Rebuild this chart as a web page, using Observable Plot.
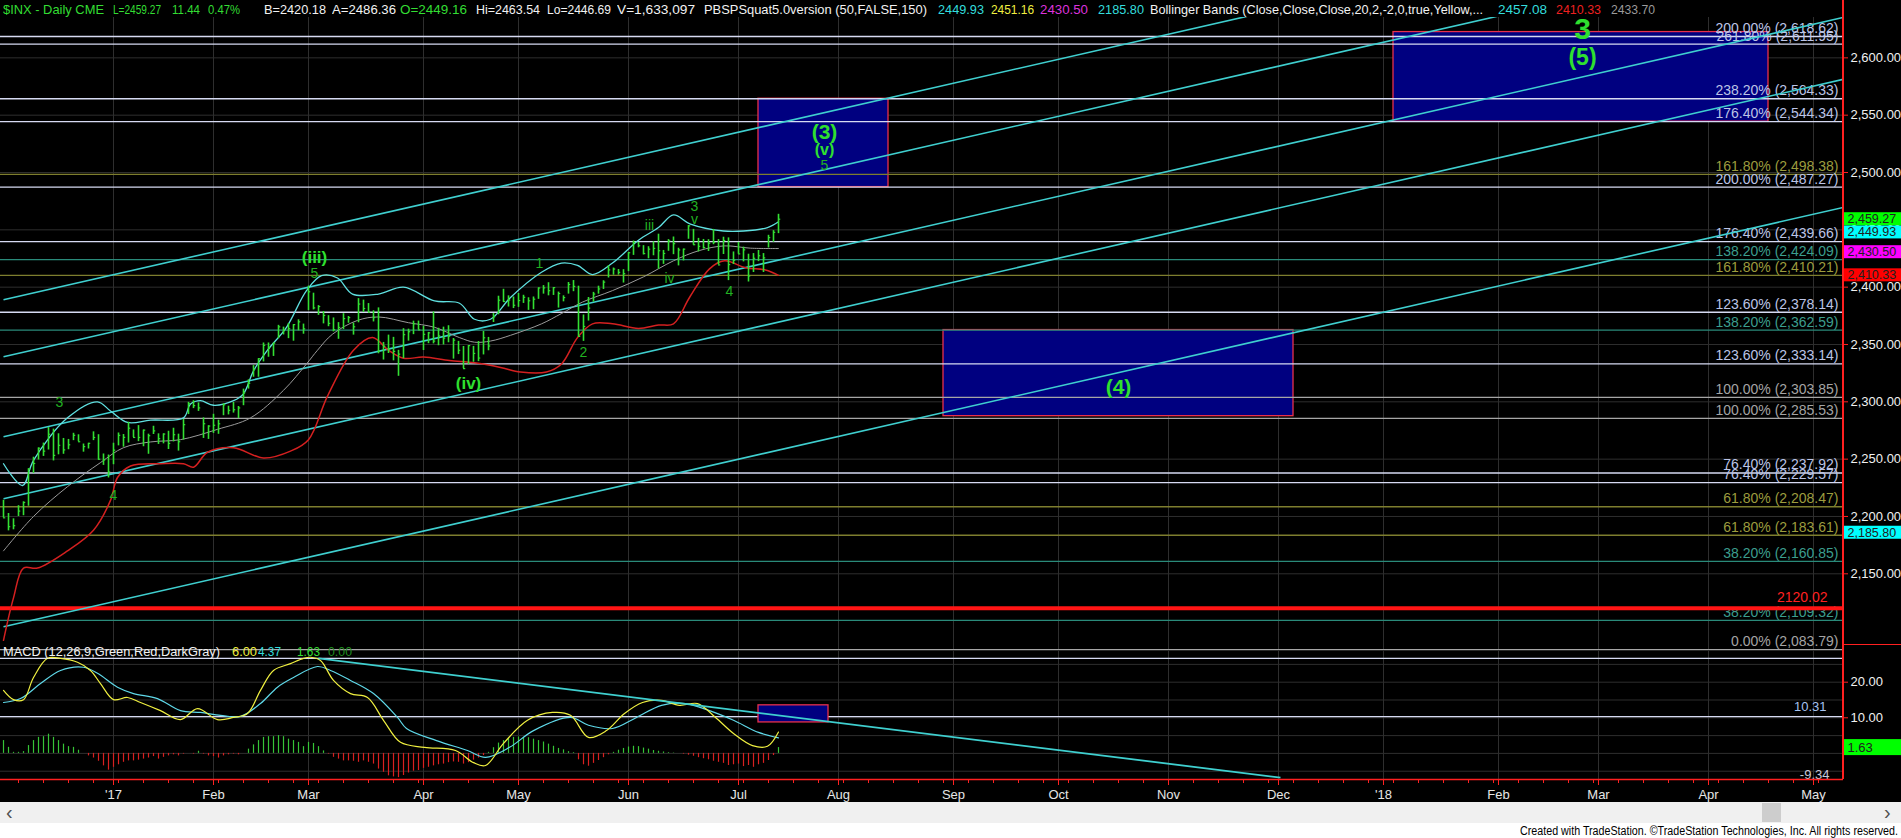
<!DOCTYPE html>
<html>
<head>
<meta charset="utf-8">
<script src="https://cdn.jsdelivr.net/npm/d3@7"></script>
<script src="https://cdn.jsdelivr.net/npm/@observablehq/plot@0.6"></script>
<style>
html,body{margin:0;padding:0;background:#fff;overflow:hidden;}
#wrap{position:relative;width:1901px;height:838px;background:#fff;font-family:"Liberation Sans",Arial,sans-serif;}
#black{position:absolute;left:0;top:0;width:1901px;height:802px;background:#000;}
#main{position:absolute;left:0;top:0;}
#macd{position:absolute;left:0;top:650px;}
.lbl{position:absolute;font-size:13px;line-height:15px;white-space:nowrap;transform-origin:0 0;}
#vred{position:absolute;left:1842px;top:0;width:1.5px;height:779px;background:#ff2020;}
#sep{position:absolute;left:1843px;top:644px;width:58px;height:1px;background:#ff2020;}
#scroll{position:absolute;left:0;top:802px;width:1901px;height:21px;background:#f0f0f0;}
#thumb{position:absolute;left:1762px;top:1px;width:19px;height:19px;background:#cdcdcd;}
.arr{position:absolute;top:0px;font-size:20px;line-height:20px;color:#505050;}
#footer{position:absolute;left:1520px;top:825px;font-size:12px;line-height:13px;color:#000;white-space:nowrap;transform-origin:0 0;}
</style>
</head>
<body>
<div id="wrap">
  <div id="black"></div>
  <div id="main"></div>
  <div id="macd"></div>
  <div id="vred"></div>
  <div id="sep"></div>
  <div id="labels"></div>
  <div id="scroll"><span class="arr" style="left:6px">&#8249;</span><div id="thumb"></div><span class="arr" style="left:1884px">&#8250;</span></div>
  <div id="footer">Created with TradeStation. &#169;TradeStation Technologies, Inc. All rights reserved.</div>
</div>
<script>
// ---------- price bars: trading days 2016-11-30 ... 2017-07-14 (index 0..155) ----------
const barHigh = [
2214.10,2202.60,2197.95,2209.42,2212.78,2241.63,2251.69,2259.80,2264.03,2277.53,2276.20,2272.12,2268.05,2267.19,2272.56,2271.23,2263.18,2263.79,2273.82,2271.31,2254.51,2253.58,
2263.88,2272.82,2271.50,2282.10,2275.49,2279.27,2275.32,2271.78,2278.68,2272.08,2272.01,2274.33,2276.96,2271.78,2284.63,2299.55,2300.99,2299.02,2286.01,2279.09,
2289.14,2283.97,2298.31,2296.18,2299.40,2295.91,2311.08,2319.23,2331.58,2337.58,2351.31,2351.31,2351.16,2366.71,2365.13,2368.26,2367.34,2371.54,2367.79,
2400.98,2394.75,2383.89,2378.80,2375.12,2373.16,2369.08,2376.86,2374.42,2368.55,2390.01,2388.71,2385.71,2379.38,2381.93,2351.81,2358.18,2356.22,2344.90,2363.78,2363.36,2370.35,2370.42,
2365.87,2360.53,2378.36,2364.16,2365.13,2366.37,2355.22,2352.72,2348.26,2349.14,2348.35,2352.63,2361.37,2356.18,2376.98,2392.10,2398.16,2392.43,2391.43,
2394.49,2392.93,2390.74,2391.43,2399.29,2401.36,2403.87,2399.73,2395.72,2392.44,2404.05,2405.77,2400.85,2375.74,2390.97,2395.46,2400.85,2405.58,2418.71,2416.68,2415.38,2415.26,
2430.06,2440.23,2439.07,2436.21,2435.28,2439.55,2446.20,2432.03,2441.49,2443.75,2433.95,2433.15,2453.82,2450.41,2442.55,2441.62,2441.40,2450.38,2441.49,2443.56,2442.97,2430.72,
2439.07,2434.90,2428.73,2429.30,2432.00,2429.30,2445.24,2449.32,2463.54];
const barLow = [
2198.81,2187.44,2188.37,2199.97,2200.66,2208.93,2237.57,2249.23,2252.37,2257.96,2248.44,2253.77,2254.24,2258.21,2266.14,2265.15,2256.08,2258.84,2266.15,2249.11,2244.56,2233.62,
2245.13,2261.60,2260.45,2264.06,2268.90,2265.27,2260.83,2254.25,2271.51,2262.81,2263.35,2258.41,2265.01,2257.02,2266.68,2288.88,2294.08,2291.62,2268.04,2267.21,
2272.44,2271.65,2287.88,2288.57,2290.16,2285.38,2296.61,2311.10,2321.42,2321.42,2334.81,2338.87,2339.58,2355.09,2358.34,2355.09,2352.87,2361.87,2358.96,
2379.55,2380.17,2375.39,2367.98,2365.51,2361.01,2354.54,2363.04,2368.52,2358.18,2368.94,2377.94,2377.64,2369.66,2341.90,2336.45,2342.13,2335.74,2322.25,2337.63,2352.94,2358.58,2362.60,
2344.73,2350.72,2350.52,2348.90,2349.61,2351.50,2337.25,2341.18,2328.95,2332.51,2334.54,2335.05,2340.91,2344.51,2369.19,2375.91,2386.78,2382.68,2381.34,
2382.36,2385.82,2379.75,2380.35,2389.38,2393.92,2392.44,2392.79,2381.74,2387.19,2393.94,2396.05,2356.95,2352.72,2370.43,2386.92,2393.88,2397.99,2408.01,2410.46,2410.51,2403.59,
2413.54,2427.71,2434.32,2428.12,2424.75,2427.40,2415.70,2419.89,2431.28,2428.34,2418.53,2422.88,2441.79,2436.60,2430.74,2433.27,2431.11,2437.03,2419.38,2428.48,2405.70,2419.76,
2428.69,2422.05,2404.50,2412.79,2422.27,2412.79,2434.19,2439.19,2446.69];
const barClose = [
2198.81,2191.08,2191.95,2204.71,2212.23,2241.35,2246.19,2259.53,2256.96,2271.72,2253.28,2262.03,2258.07,2262.53,2270.76,2265.18,2260.96,2263.79,2268.88,2249.92,2249.26,2238.83,
2257.83,2270.75,2269.00,2276.98,2268.90,2268.90,2275.32,2270.44,2274.64,2267.89,2271.89,2263.69,2271.31,2265.20,2280.07,2298.37,2296.68,2294.69,2280.90,2278.87,
2279.55,2280.85,2297.42,2292.56,2293.08,2294.67,2307.87,2316.10,2328.25,2337.58,2349.25,2347.22,2351.16,2365.38,2362.82,2363.81,2367.34,2369.75,2363.64,
2395.96,2381.92,2383.12,2375.31,2368.39,2362.98,2364.87,2372.60,2373.47,2365.45,2385.26,2381.38,2378.25,2373.47,2344.02,2348.45,2345.96,2343.98,2341.59,2358.57,2361.13,2368.06,2362.72,
2358.84,2360.16,2352.95,2357.49,2355.54,2357.16,2353.78,2344.93,2328.95,2349.01,2342.19,2338.17,2355.84,2348.69,2374.15,2388.61,2387.45,2388.77,2384.20,
2388.33,2391.17,2388.13,2389.52,2399.29,2399.38,2396.92,2399.63,2394.44,2390.90,2402.32,2400.67,2357.03,2365.72,2381.73,2394.02,2398.42,2404.39,2415.07,2415.82,2412.91,2411.80,
2430.06,2439.07,2436.10,2429.33,2433.14,2433.79,2431.77,2429.39,2440.35,2437.92,2432.46,2433.15,2453.46,2437.03,2435.61,2434.50,2438.30,2439.07,2419.38,2440.69,2419.70,2423.41,
2429.01,2432.54,2409.75,2425.18,2427.43,2425.53,2443.25,2447.83,2459.27];

// ---------- Bollinger bands : bar index / value ----------
const bbUpperIdx = [0,3.8,6,12.8,18.8,21.4,24.8,29.4,36,37.4,39.4,42,46,48,50,52.8,56.6,60.6,63.6,66.8,69.8,75,80,86.2,91.2,94.2,97.4,101.4,107.6,111.6,114.8,117.8,121.8,127,131,134,137.4,144,148,152.8,155];
const bbUpperVal = [2246,2227,2249,2286,2300,2292,2282,2284,2286,2298,2301,2297,2301,2307,2327,2345,2365,2397,2410,2408,2394,2394,2400,2388,2386,2372,2372,2391,2413,2421,2419,2411,2421,2441,2452,2463,2455,2449,2449,2452,2457.08];
const bbMidIdx = [0,6,12.8,19.4,24,29.4,35.4,42.8,49.4,56,60.6,62.8,65.8,70.8,75,81,86.2,91.2,94.2,97.4,101.4,107.6,111.6,115.8,121.8,128,134,139.2,144.2,149.4,155];
const bbMidVal = [2170,2200,2226,2247,2260,2265,2267,2276,2286,2310,2333,2345,2359,2371,2374,2369,2365,2356,2352,2353,2358,2368,2377,2387,2397,2409,2423,2432,2436,2434,2433.70];
const bbLowIdx = [0,2,4,6.8,12.8,18,21.4,22.8,25.4,31.4,36,38,40.8,46,52,57.4,61,64.8,70,73.8,77,80,84,89.2,94.2,99.4,103.4,108.6,111.6,114.8,117.8,121.8,127,131,134,137.2,141.2,144.2,148.4,152.4,155];
const bbLowVal = [2092,2129,2155,2155,2170,2188,2214,2234,2244,2246,2246,2243,2256,2260,2251,2257,2267,2305,2345,2356,2345,2338,2339,2336,2334,2330,2326,2326,2333,2356,2368,2368,2364,2367,2368,2391,2416,2423,2417,2415,2410.33];

// ---------- MACD panel ----------
const macdIdx = [0,2,4,6,8.8,11.4,14.8,17.4,19.4,22,24.8,27.4,31.4,35.4,38.8,42.8,46,48.8,51.4,54,57.4,60,61.4,63.4,66,69.4,72.8,76,79.4,84.2,90.4,94,96.4,100,104.8,109.8,113.4,117,120.6,124.2,127.8,131.6,135.2,138.8,142.4,146,149.8,152.8,155];
const macdVal = [17.7,15.1,15.1,21.3,26.7,26.7,25.6,23.3,19.6,15.1,15.7,14.3,12.0,9.5,12.6,9.5,10.1,11.2,17.7,23.3,25.2,26.7,27.0,26.1,20.5,16.8,15.7,9.3,3.1,1.7,0.8,-2.6,-3.4,2.8,9.3,11.5,10.7,4.5,6.4,11.2,14.3,14.9,13.5,14.0,10.1,5.6,2.2,2.0,6.00];
const sigIdx = [0,3.4,7.4,11.4,16,18.8,22.8,26,30.8,35.4,39.4,43.4,47.4,51.4,54.8,58,62.8,65.4,69.4,74,78.8,80.6,86.6,92.8,96.4,101.2,106,113.4,117,121.8,126.6,131.6,136.4,141.2,146,151,155];
const sigVal = [14.3,15.4,19.6,23.3,24.2,22.5,18.6,16.8,15.4,12.0,11.5,10.7,10.4,14.0,18.6,21.3,24.4,23.3,20.5,16.8,10.1,7.0,3.6,0.8,-1.1,1.7,6.4,10.1,7.9,7.0,10.1,13.5,14.0,12.0,9.3,5.9,4.37];
const histVal = [
3.6,1.7,0.3,0.3,0.5,2.2,3.6,4.5,4.7,5.4,4.5,3.6,2.6,1.9,1.7,0.9,0,-0.7,-1.3,-2.2,-3.5,-4.7,-3.9,-3.2,-2.5,-2.1,-2.1,-1.9,-1.6,-1.3,
-0.9,-1.6,-1.1,-0.7,-0.4,-0.7,-0.2,0,-0.2,0.6,-0.2,-0.7,-0.9,-1.3,-0.7,-0.4,-0.2,-0.4,0,1.2,2.4,3.6,4.5,4.7,4.7,5.0,4.7,4.0,3.6,3.1,
1.9,3.1,2.8,1.9,0.7,-0.2,-1.1,-1.6,-2.1,-2.1,-2.2,-2.5,-2.1,-2.5,-3.0,-4.4,-5.3,-6.3,-6.6,-6.8,-6.2,-5.5,-5.0,-4.8,-4.2,-3.9,-3.5,-3.2,-3.0,-2.6,
-2.4,-2.5,-3.0,-2.6,-1.9,-1.3,-0.6,0.3,1.6,2.9,3.6,4.2,4.5,4.6,4.5,4.4,4.0,3.6,3.2,2.6,2.0,1.4,1.0,0.5,0.2,-1.8,-3.2,-3.6,-2.8,-2.0,
-1.2,-0.4,0.3,0.9,1.4,1.8,2.0,1.9,1.5,1.2,0.8,0.6,0.4,0.2,0.1,0.0,-0.2,-0.5,-0.8,-1.2,-1.5,-1.8,-2.2,-2.5,-2.8,-3.4,-3.2,-3.0,-3.7,-3.4,
-3.9,-3.2,-2.8,-2.0,-0.6,1.63];
const macdLevels = [26.7, 10.31];
const macdTrendIdx = [63, 255.4];
const macdTrendVal = [26.7, -6.8];
const macdBoxIdx = [151, 165];
const macdBoxVal = [8.7, 13.5];

// ---------- Fibonacci levels ----------
const fibPct = ["200.00%","261.80%","238.20%","176.40%","161.80%","200.00%","176.40%","138.20%","161.80%","123.60%","138.20%","123.60%","100.00%","100.00%","76.40%","76.40%","61.80%","61.80%","38.20%","38.20%","0.00%"];
const fibPrice = [2618.62,2611.95,2564.33,2544.34,2498.38,2487.27,2439.66,2424.09,2410.21,2378.14,2362.59,2333.14,2303.85,2285.53,2237.92,2229.57,2208.47,2183.61,2160.85,2109.32,2083.79];
const fibKind = ["w","w","w","w","o","w","w","t","o","w","t","w","g","g","w","w","o","o","t","t","g"];
const stopLevel = 2120.02;

// ---------- channel lines (value at index 0 and at index 368) ----------
const channelIdx = [0, 368];
const channelStart = [2389.0, 2339.3, 2269.5, 2215.5, 2103.8];
const channelEnd = [2754.8, 2705.1, 2635.3, 2581.3, 2469.6];

// ---------- target boxes ----------
const boxFrom = [151, 188, 278];
const boxTo = [177, 258, 353];
const boxTop = [2564.33, 2362.59, 2622.5];
const boxBottom = [2487.27, 2287.5, 2544.34];

// ---------- wave labels ----------
const waveBoldText = ["(iii)","(iv)","(3)","(v)","(4)","3","(5)"];
const waveBoldIdx = [62.2, 93, 164.2, 164.2, 223, 315.8, 315.8];
const waveBoldPrice = [2425.9, 2316, 2535, 2519.5, 2312.5, 2624.8, 2600.4];
const waveBoldSize = [17, 17, 21, 16, 21, 30, 23];
const waveSmallText = ["3","4","5","1","2","iii","iv","3","v","4","5"];
const waveSmallIdx = [11.2, 22, 62.2, 107.2, 116, 129.2, 133.2, 138.2, 138.2, 145.2, 164.2];
const waveSmallPrice = [2299.4, 2218.3, 2411.9, 2420.7, 2343, 2453.8, 2407.6, 2470.2, 2459, 2396.3, 2506.5];

// ---------- axis ticks and last-value tags ----------
const monthLabels = ["'17","Feb","Mar","Apr","May","Jun","Jul","Aug","Sep","Oct","Nov","Dec","'18","Feb","Mar","Apr","May"];
const monthIdx = [22,42,61,84,103,125,147,167,190,211,233,255,276,299,319,341,362];
const priceTicks = [2150,2200,2250,2300,2350,2400,2450,2500,2550,2600];
const macdTicks = [10, 20];
const lastPriceVal = [2449.93, 2459.27, 2430.50, 2410.33, 2185.80];
const lastPriceColor = ["#00ffff", "#00ff00", "#ff00ff", "#ff0000", "#00ffff"];
const lastPriceShift = [2.5, 0, 0, 0, 0];   // px downwards: tags nudged apart, as the platform does

// ---------- header texts: text, left, right, colour ----------
const GR = "#33dd33", WH = "#f2f2f2", CY = "#33dddd", YE = "#f0f040", MA = "#dd33dd", RE = "#ee2020", GY = "#9a9a9a";
const header = [
  ["$INX - Daily  CME", 3, 104, GR], ["L=2459.27", 113, 161, GR], ["11.44", 172, 200, GR], ["0.47%", 208, 240, GR],
  ["B=2420.18", 264, 326, WH], ["A=2486.36", 332, 396, WH], ["O=2449.16", 400, 467, GR], ["Hi=2463.54", 476, 540, WH],
  ["Lo=2446.69", 547, 611, WH], ["V=1,633,097", 617, 695, WH], ["PBSPSquat5.0version (50,FALSE,150)", 704, 927, WH],
  ["2449.93", 938, 984, CY], ["2451.16", 991, 1034, YE], ["2430.50", 1040, 1088, MA], ["2185.80", 1098, 1144, CY],
  ["Bollinger Bands (Close,Close,Close,20,2,-2,0,true,Yellow,...", 1150, 1483, WH],
  ["2457.08", 1498, 1547, CY], ["2410.33", 1556, 1601, RE], ["2433.70", 1611, 1655, GY]
];
const macdHeader = [
  ["MACD (12,26,9,Green,Red,DarkGray)", 3, 220, WH], ["6.00", 232, 257, YE], ["4.37", 258, 281, CY], ["1.63", 297, 320, GR], ["0.00", 328, 352, "#1f8a1f"]
];

// ================= build =================
const W = 1901;
const xDomain = [-0.6, 368];
const BAR = "#33e033";
const fmt2 = d3.format(",.2f");
const bars = barHigh.map((h, i) => ({i, h, l: barLow[i], c: barClose[i]}));
const series = (idx, val) => idx.map((i, k) => ({i, v: val[k]}));
const lineCol = {w: "#d6daf2", o: "#7e7e2e", t: "#2a8a7a", g: "#a6a6a6"};
const textCol = {w: "#bcc4e6", o: "#9c9c3e", t: "#3c9e8e", g: "#a4a4a4"};
const fibs = fibPrice.map((p, k) => ({p, label: `${fibPct[k]} (${fmt2(p)})`, s: lineCol[fibKind[k]], f: textCol[fibKind[k]]}));
const channels = channelStart.map((s, k) => ({x1: channelIdx[0], y1: s, x2: channelIdx[1], y2: channelEnd[k]}));
const boxes = boxFrom.map((b, k) => ({x1: b, x2: boxTo[k], y1: boxBottom[k], y2: boxTop[k]}));
const wavesBold = waveBoldText.map((t, k) => ({t, i: waveBoldIdx[k], p: waveBoldPrice[k], s: waveBoldSize[k]}));
const wavesSmall = waveSmallText.map((t, k) => ({t, i: waveSmallIdx[k], p: waveSmallPrice[k]}));
const monthLabelOf = new Map(monthIdx.map((m, k) => [m, monthLabels[k]]));
const FONT = "Liberation Sans, Arial, sans-serif";

// one rect + text pair per last-value tag so each can be nudged
const tagMarks = lastPriceVal.flatMap((v, k) => [
  Plot.rect([v], {x1: xDomain[1], x2: xDomain[1], y1: d => d, y2: d => d, insetRight: -58, insetTop: -6.5 + lastPriceShift[k], insetBottom: -6.5 - lastPriceShift[k], fill: lastPriceColor[k]}),
  Plot.text([v], {x: xDomain[1], y: d => d, text: d => fmt2(d), dx: 4, dy: lastPriceShift[k], textAnchor: "start", fill: "#202020", fontSize: 12.5})
]);

const mainPlot = Plot.plot({
  width: W, height: 650,
  marginLeft: 0, marginRight: 58, marginTop: 17, marginBottom: 0,
  style: {background: "transparent", color: "#fff", fontFamily: FONT, fontSize: "13px", overflow: "visible"},
  x: {domain: xDomain, axis: null, label: null},
  y: {domain: [2083.1, 2635.2], axis: null, label: null},
  color: {type: "identity"},
  marks: [
    Plot.gridY(priceTicks, {stroke: "#2e2e2e", strokeOpacity: 1}),
    Plot.gridX(monthIdx, {stroke: "#2e2e2e", strokeOpacity: 1}),
    Plot.rect(boxes, {x1: "x1", x2: "x2", y1: "y1", y2: "y2", fill: "#000080", stroke: "#e8304c", strokeWidth: 1.3}),
    Plot.ruleY(fibs, {y: "p", stroke: "s", strokeWidth: 1.3}),
    Plot.text(fibs, {y: "p", text: "label", fill: "f", frameAnchor: "right", textAnchor: "end", dx: -5, dy: -8, fontSize: 14}),
    Plot.ruleY([stopLevel], {stroke: "#ff1414", strokeWidth: 4}),
    Plot.text([stopLevel], {y: d => d, text: d => d.toFixed(2), fill: "#ff2020", frameAnchor: "right", textAnchor: "end", dx: -16, dy: -11, fontSize: 14}),
    Plot.link(channels, {x1: "x1", y1: "y1", x2: "x2", y2: "y2", stroke: "#3fcfcf", strokeWidth: 1.6, clip: true}),
    Plot.line(series(bbLowIdx, bbLowVal), {x: "i", y: "v", stroke: "#d42020", strokeWidth: 1.5, curve: "catmull-rom"}),
    Plot.line(series(bbMidIdx, bbMidVal), {x: "i", y: "v", stroke: "#9a9a9a", strokeWidth: 1, curve: "catmull-rom"}),
    Plot.line(series(bbUpperIdx, bbUpperVal), {x: "i", y: "v", stroke: "#5fe0e0", strokeWidth: 1.3, curve: "catmull-rom"}),
    Plot.ruleX(bars, {x: "i", y1: "l", y2: "h", stroke: BAR, strokeWidth: 1.6}),
    Plot.ruleY(bars, {y: "c", x1: "i", x2: d => d.i + 0.45, stroke: BAR, strokeWidth: 1.2}),
    Plot.text(wavesSmall, {x: "i", y: "p", text: "t", fill: "#22b022", fontSize: 14}),
    Plot.text(wavesBold, {x: "i", y: "p", text: "t", fill: "#2fe02f", fontSize: "s", fontWeight: "bold"}),
    Plot.axisY(priceTicks, {anchor: "right", label: null, tickFormat: fmt2, tickSize: 4, tickPadding: 3, stroke: "#ff2020", fill: "#f0f0f0", fontSize: 13}),
    ...tagMarks
  ]
});
document.getElementById("main").appendChild(mainPlot);

const macdPlot = Plot.plot({
  width: W, height: 152,
  marginLeft: 0, marginRight: 58, marginTop: 0, marginBottom: 23,
  style: {background: "transparent", color: "#fff", fontFamily: FONT, fontSize: "13px", overflow: "visible"},
  x: {domain: xDomain, axis: null, label: null},
  y: {domain: [-7.33, 28.9], axis: null, label: null},
  color: {type: "identity"},
  marks: [
    Plot.gridY([-5, 0, 5, 10, 15, 20, 25], {stroke: "#2e2e2e", strokeOpacity: 1}),
    Plot.gridX(monthIdx, {stroke: "#2e2e2e", strokeOpacity: 1}),
    Plot.ruleY(macdLevels, {y: d => d, stroke: "#d6daf2", strokeWidth: 1.3}),
    Plot.rect([0], {x1: macdBoxIdx[0], x2: macdBoxIdx[1], y1: macdBoxVal[0], y2: macdBoxVal[1], fill: "#000080", stroke: "#e8304c", strokeWidth: 1.3}),
    Plot.ruleX(histVal.map((v, i) => ({i, v})), {x: "i", y1: 0, y2: "v", stroke: d => d.v >= 0 ? "#36c436" : "#d82020", strokeWidth: 1.2}),
    Plot.line(series(sigIdx, sigVal), {x: "i", y: "v", stroke: "#5fd8e8", strokeWidth: 1.2, curve: "catmull-rom"}),
    Plot.line(series(macdIdx, macdVal), {x: "i", y: "v", stroke: "#f0f040", strokeWidth: 1.2, curve: "catmull-rom"}),
    Plot.link([0], {x1: macdTrendIdx[0], y1: macdTrendVal[0], x2: macdTrendIdx[1], y2: macdTrendVal[1], stroke: "#3fcfcf", strokeWidth: 1.8, clip: true}),
    Plot.text([10.31], {y: d => d, text: d => d.toFixed(2), fill: "#a8c4f0", frameAnchor: "right", textAnchor: "end", dx: -17, dy: -10, fontSize: 13}),
    Plot.text([-9.34], {y: d => d, text: d => d.toFixed(2), fill: "#c8c8d8", frameAnchor: "right", textAnchor: "end", dx: -14, dy: -12, fontSize: 13, clip: true}),
    Plot.ruleY([-7.33], {stroke: "#ff2020", strokeWidth: 1.5}),
    Plot.axisX(d3.range(3, 368, 5), {anchor: "bottom", label: null, tickSize: 4, tickFormat: () => "", stroke: "#ff2020"}),
    Plot.axisX(monthIdx, {anchor: "bottom", label: null, tickSize: 6, tickPadding: 4, tickFormat: d => monthLabelOf.get(d), stroke: "#ff2020", fill: "#e6e6e6", fontSize: 13}),
    Plot.axisY(macdTicks, {anchor: "right", label: null, tickFormat: ".2f", tickSize: 4, tickPadding: 3, stroke: "#ff2020", fill: "#f0f0f0", fontSize: 13}),
    Plot.rect([1.63], {x1: xDomain[1], x2: xDomain[1], y1: d => d, y2: d => d, insetRight: -58, insetTop: -8, insetBottom: -8, fill: "#00ff00"}),
    Plot.text([1.63], {x: xDomain[1], y: d => d, text: d => d.toFixed(2), dx: 4, textAnchor: "start", fill: "#202020", fontSize: 13})
  ]
});
document.getElementById("macd").appendChild(macdPlot);

// legend rows, each text fitted to the width it takes in the reference
const lab = document.getElementById("labels");
function fit(el, target) {
  const w = el.getBoundingClientRect().width;
  if (w > 0) el.style.transform = `scaleX(${target / w})`;
}
function addLabel(items, top) {
  for (const [t, x, x2, c] of items) {
    const s = document.createElement("span");
    s.className = "lbl";
    s.textContent = t;
    s.style.left = x + "px";
    s.style.top = top + "px";
    s.style.color = c;
    lab.appendChild(s);
    fit(s, x2 - x);
  }
}
addLabel(header, 2);
addLabel(macdHeader, 644);
fit(document.getElementById("footer"), 378);
</script>
</body>
</html>
